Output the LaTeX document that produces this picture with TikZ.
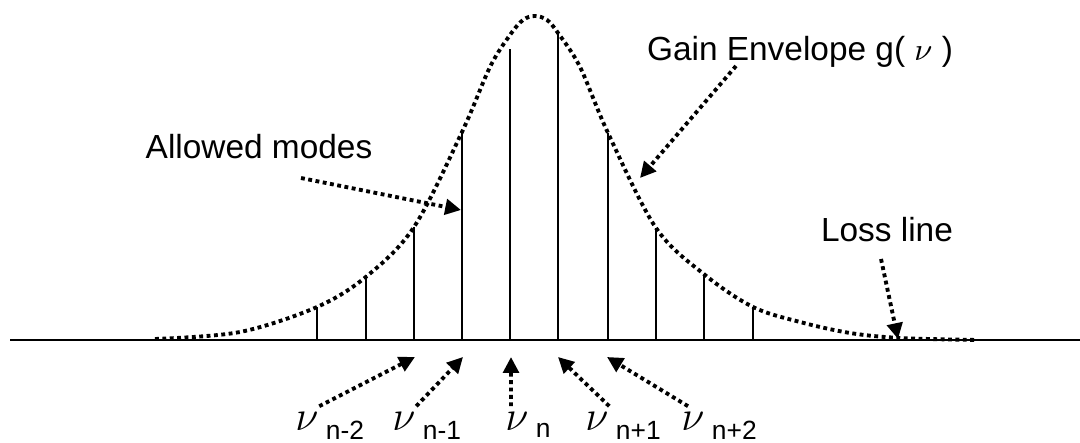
\documentclass[tikz,border=0pt]{standalone}
\usepackage{fontspec}
\setmainfont{Liberation Sans}
\usetikzlibrary{arrows.meta, positioning}
\begin{document}
\begin{tikzpicture}[x=0.01cm, y=0.01cm,
  mode/.style={line width=0.75pt},
  env/.style={line width=1.1pt, densely dotted},
  arr/.style={line width=1.1pt, densely dotted, -{Triangle[length=4.5pt, width=4.4pt]}},
  lbl/.style={font=\fontsize{9.5}{11}\selectfont, inner sep=1pt},
  nu/.style={font=\fontsize{13}{15}\selectfont, inner sep=0pt},
  sub/.style={font=\fontsize{7.5}{9}\selectfont, inner sep=0pt}
]
\useasboundingbox (0,0) rectangle (1080,443);
% axis
\draw[line width=0.85pt] (10,103) -- (1080,103);
% gain envelope
\draw[env] plot[smooth, tension=0.55] coordinates {
  (155,104) (240,111) (317,136) (367,167) (414,216) (462,311) (490,376)
  (510,408) (523,423) (535,427) (547,423) (558,410) (580,376) (608,310)
  (656,215) (705,168) (753,136) (800,121) (850,110) (900,105) (977,103)};
% modes
\draw[mode] (317,103) -- (317,136);
\draw[mode] (366,103) -- (366,168);
\draw[mode] (414,103) -- (414,216);
\draw[mode] (462,103) -- (462,311);
\draw[mode] (510,103) -- (510,394);
\draw[mode] (558,103) -- (558,410);
\draw[mode] (608,103) -- (608,310);
\draw[mode] (656,103) -- (656,215);
\draw[mode] (704,103) -- (704,168);
\draw[mode] (753,103) -- (753,136);

\node[lbl] (modes) at (259,296) {Allowed modes};
\node[lbl] (gain)  at (800,391) {Gain Envelope g( $\nu$ )};
\node[lbl] (loss)  at (887,213) {Loss line};
\coordinate (modesTail) at (301,265);
\coordinate (modesTip)  at (461,233);
\coordinate (gainTail)  at (736,377);
\coordinate (gainTip)   at (640,265);
\coordinate (lossTail)  at (881,184);
\coordinate (lossTip)   at (898,104);
\draw[arr] (modesTail) -- (modesTip);
\draw[arr] (gainTail) -- (gainTip);
\draw[arr] (lossTail) -- (lossTip);

% mode labels
\node[nu] (nm2) at (307,22) {$\nu$};
\node[nu] (nm1) at (404,22) {$\nu$};
\node[nu] (n0)  at (517,22) {$\nu$};
\node[nu] (np1) at (597,22) {$\nu$};
\node[nu] (np2) at (693,22) {$\nu$};
\node[sub, right=1.7pt of nm2.south east] {n-2};
\node[sub, right=1.7pt of nm1.south east] {n-1};
\node[sub, right=1.7pt of n0.south east]  {n};
\node[sub, right=1.7pt of np1.south east] {n+1};
\node[sub, right=1.7pt of np2.south east] {n+2};
\coordinate (tm2) at (415,86);
\coordinate (tm1) at (463,86);
\coordinate (t0)  at (511,86);
\coordinate (tp1) at (558,86);
\coordinate (tp2) at (607,86);
\draw[arr] ([yshift=0.05cm]nm2.north east) -- (tm2);
\draw[arr] ([yshift=0.05cm]nm1.north east) -- (tm1);
\draw[arr] ([xshift=-0.06cm, yshift=0.05cm]n0.north) -- (t0);
\draw[arr] ([yshift=0.05cm]np1.north east) -- (tp1);
\draw[arr] ([xshift=-0.05cm, yshift=0.05cm]np2.north) -- (tp2);
\end{tikzpicture}
\end{document}
